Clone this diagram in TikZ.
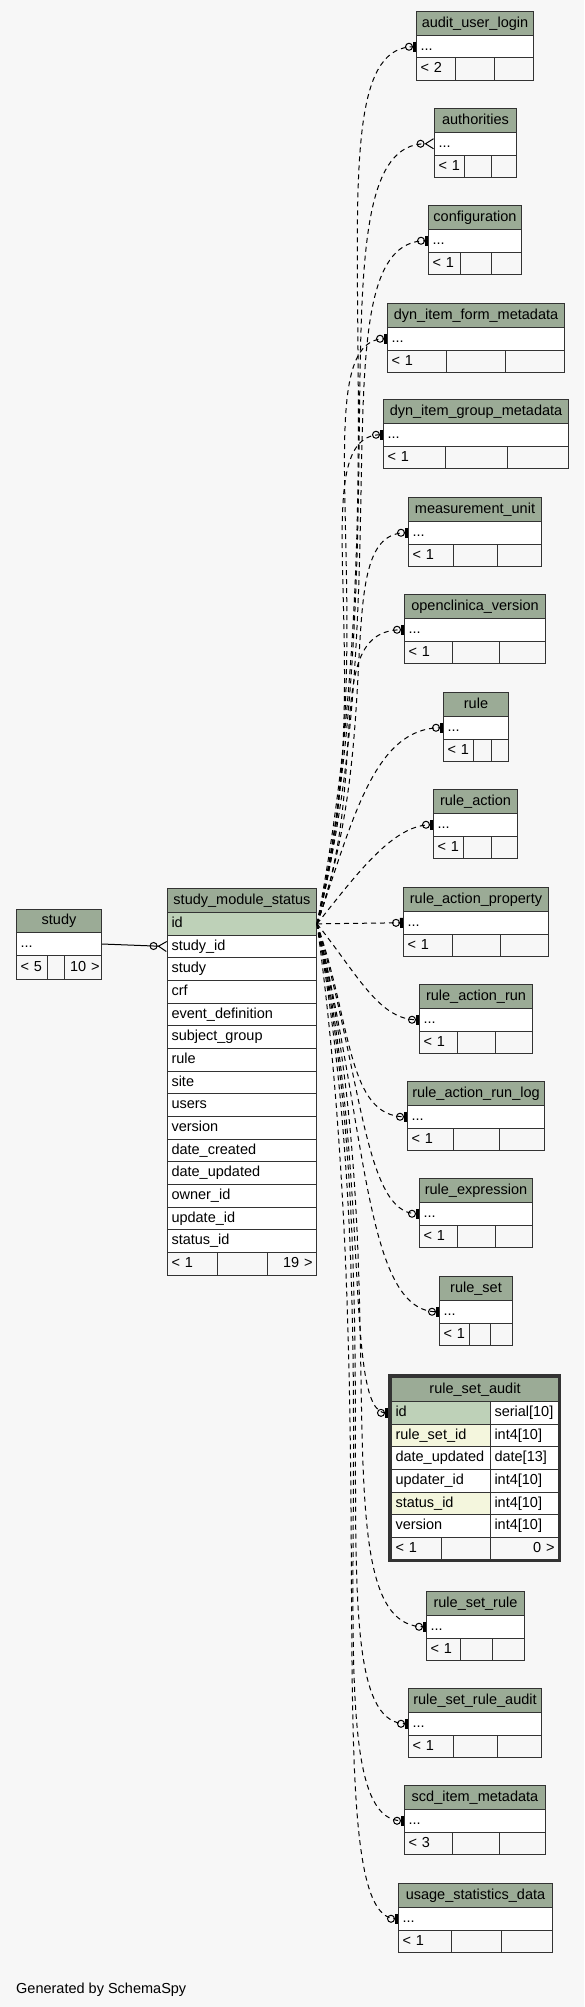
\documentclass[tikz,border=0pt]{standalone}
\usepackage{fontspec}
\setmainfont{Liberation Sans}
\usetikzlibrary{arrows.meta}

\definecolor{pagebg}{HTML}{F7F7F7}
\definecolor{headbg}{HTML}{9BAB96}
\definecolor{keybg}{HTML}{BED1B8}
\definecolor{idxbg}{HTML}{F4F6DD}
\definecolor{gridline}{HTML}{333333}

\tikzset{
  cell/.style={draw=gridline, line width=1pt, anchor=north west, inner xsep=4pt, inner ysep=0pt,
    align=left, text height=10.5pt, text depth=3pt, font=\fontsize{14.5}{17}\selectfont},
  headcell/.style={cell, fill=headbg, align=center},
  bodycell/.style={cell, fill=white},
  keycell/.style={cell, fill=keybg},
  footcell/.style={cell, fill=pagebg},
  implied/.style={line width=1pt, dash pattern=on 5pt off 4pt},
  zeroone/.style={-{Circle[open,length=8pt,width=8pt,line width=1pt]Bar[width=10pt,line width=3pt]}},
  zeromany/.style={-{Circle[open,length=8pt,width=8pt,line width=1pt]Straight Barb[reversed,length=8pt,width=10pt,line width=1pt]}}
}

\begin{document}
\catcode`\_=12
\begin{tikzpicture}[x=1pt,y=-1pt]
\useasboundingbox[fill=pagebg] (0,0) rectangle (584,2007);

% study
\node[headcell, text width=77pt, minimum height=23pt] (study) at (16,909) {study};
\node[bodycell, text width=77pt, minimum height=23pt] (study-dots) at (16,932) {...};
\node[footcell, text width=23pt, minimum height=24pt] (study-prev) at (16,955) {< 5};
\node[footcell, text width=9pt, minimum height=24pt] (study-mid) at (47,955) {};
\node[footcell, inner xsep=2pt, text width=33pt, minimum height=24pt, align=right] (study-next) at (64,955) {10 >};

% study_module_status
\node[headcell, text width=141pt, minimum height=24pt] (sms) at (167,888) {study_module_status};
\node[keycell, text width=141pt, minimum height=22.67pt] (sms-id) at (167,912) {id};
\foreach \c [count=\i] in {study_id,study,crf,event_definition,subject_group,rule,site,users,
  version,date_created,date_updated,owner_id,update_id,status_id}
  \node[bodycell, text width=141pt, minimum height=22.67pt] (sms-\c) at (167,912+22.67*\i) {\c};
\node[footcell, text width=42pt, minimum height=23pt] (sms-prev) at (167,1252) {< 1};
\node[footcell, text width=42pt, minimum height=23pt] (sms-mid) at (217,1252) {};
\node[footcell, text width=41pt, minimum height=23pt, align=right] (sms-next) at (267,1252) {19 >};

% rule_set_audit
\draw[gridline, line width=3pt] (389.5,1375.5) rectangle (559.5,1560.5);
\node[headcell, text width=159pt, minimum height=24pt] (rule_set_audit) at (391,1377) {rule_set_audit};
\foreach \c/\t/\f [count=\i from 0] in {id/serial[10]/keybg, rule_set_id/int4[10]/idxbg,
  date_updated/date[13]/white, updater_id/int4[10]/white, status_id/int4[10]/idxbg, version/int4[10]/white}{
  \node[cell, fill=\f, text width=91pt, minimum height=22.67pt] (rule_set_audit-\c) at (391,1401+22.67*\i) {\c};
  \node[bodycell, text width=60pt, minimum height=22.67pt] (rule_set_audit-\c-type) at (490,1401+22.67*\i) {\t};
}
\node[footcell, text width=42pt, minimum height=22pt] (rule_set_audit-prev) at (391,1537) {< 1};
\node[footcell, text width=41pt, minimum height=22pt] (rule_set_audit-mid) at (441,1537) {};
\node[footcell, text width=60pt, minimum height=22pt, align=right] (rule_set_audit-next) at (490,1537) {0 >};

% collapsed tables
\foreach \n/\xa/\ya/\xb/\ca/\cb/\cnt in {
  audit_user_login/416/11/533/455/494/{< 2},
  authorities/434/108/516/464/491/{< 1},
  configuration/428/205/521/460/491/{< 1},
  dyn_item_form_metadata/387/303/564/446/505/{< 1},
  dyn_item_group_metadata/383/399/568/445/507/{< 1},
  measurement_unit/408/497/541/453/497/{< 1},
  openclinica_version/404/594/545/452/499/{< 1},
  rule/443/692/508/473/491/{< 1},
  rule_action/433/789/517/463/491/{< 1},
  rule_action_property/403/887/548/452/500/{< 1},
  rule_action_run/419/984/532/457/495/{< 1},
  rule_action_run_log/407/1081/544/453/499/{< 1},
  rule_expression/419/1178/532/457/495/{< 1},
  rule_set/439/1276/512/469/490/{< 1},
  rule_set_rule/426/1591/524/460/492/{< 1},
  rule_set_rule_audit/408/1688/541/453/497/{< 1},
  scd_item_metadata/404/1785/545/452/499/{< 3},
  usage_statistics_data/398/1883/552/451/501/{< 1}}{
  \pgfmathsetmacro\whead{\xb-\xa-8}
  \pgfmathsetmacro\wprev{\ca-\xa-8}
  \pgfmathsetmacro\wmid{\cb-\ca-8}
  \pgfmathsetmacro\wnext{\xb-\cb-8}
  \node[headcell, text width=\whead pt, minimum height=24pt] (\n) at (\xa,\ya) {\n};
  \node[bodycell, text width=\whead pt, minimum height=22.5pt] (\n-dots) at (\xa,\ya+24) {...};
  \node[footcell, text width=\wprev pt, minimum height=22.5pt] (\n-prev) at (\xa,\ya+46.5) {\cnt};
  \node[footcell, text width=\wmid pt, minimum height=22.5pt] (\n-mid) at (\ca,\ya+46.5) {};
  \node[footcell, text width=\wnext pt, minimum height=22.5pt] (\n-next) at (\cb,\ya+46.5) {};
}

% relationships
\draw[line width=1pt, zeromany] (study-dots.east) -- (sms-study_id.west);
\foreach \n/\dx/\dy/\b in {
  audit_user_login/92/-480/115,
  configuration/85/-340/113,
  dyn_item_form_metadata/70/-290/87,
  dyn_item_group_metadata/65/-245/83,
  measurement_unit/70/-200/78,
  openclinica_version/55/-150/84,
  rule/35/-100/70,
  rule_action/40/-50/40,
  rule_action_run/40/50/40,
  rule_action_run_log/35/100/60,
  rule_expression/45/150/55,
  rule_set/50/200/75,
  rule_set_rule/85/350/111,
  rule_set_rule_audit/80/400/98,
  scd_item_metadata/80/450/99,
  usage_statistics_data/68/500/83}
  \draw[implied, zeroone] (sms-id.east) .. controls +(\dx,\dy) and +(-\b,0) .. (\n-dots.west);
\draw[implied, zeromany] (sms-id.east) .. controls +(85,-390) and +(-124,0) .. (authorities-dots.west);
\draw[implied, zeroone] (sms-id.east) -- (rule_action_property-dots.west);
\draw[implied, zeroone] (sms-id.east) .. controls +(55,250) and +(-45,0) .. ([xshift=-3pt]rule_set_audit-id.west);

\node[anchor=base west, inner sep=0pt, font=\fontsize{14.5}{17}\selectfont] (credit) at (16,1993) {Generated by SchemaSpy};
\end{tikzpicture}
\end{document}
